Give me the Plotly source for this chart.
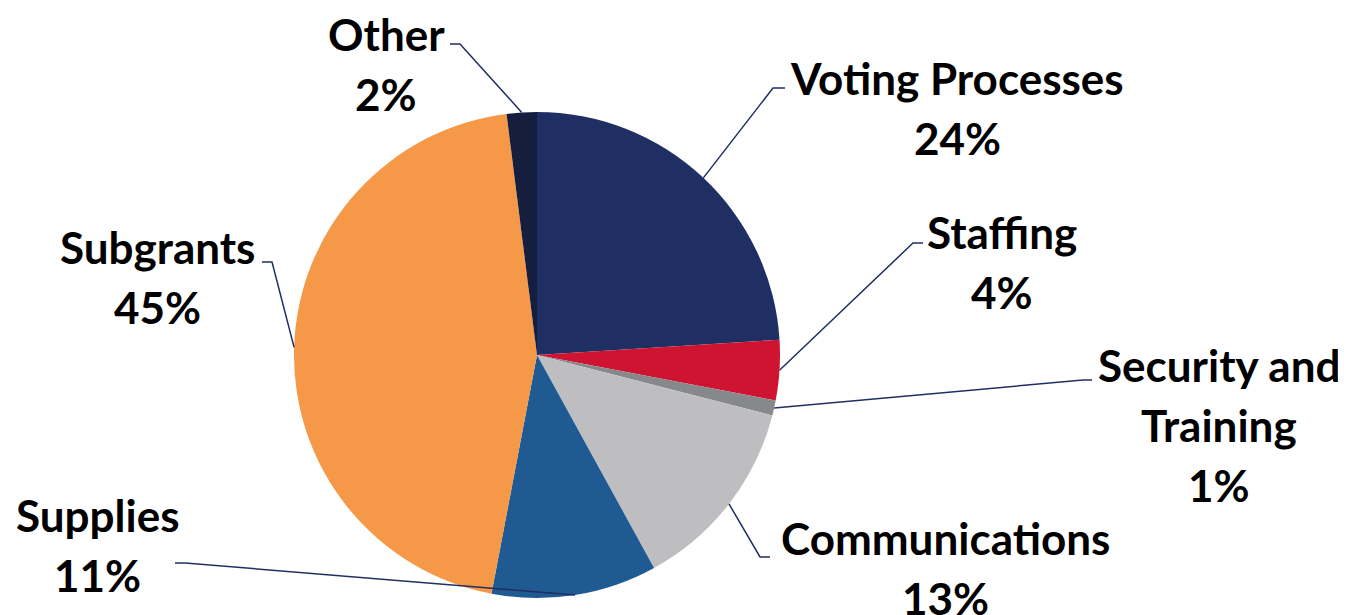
import math
import plotly.graph_objects as go

# ---- data ----
categories = ["Voting Processes", "Staffing", "Security and Training", "Communications",
              "Supplies", "Subgrants", "Other"]
label_lines = [["Voting Processes"], ["Staffing"], ["Security and", "Training"],
               ["Communications"], ["Supplies"], ["Subgrants"], ["Other"]]
values = [24, 4, 1, 13, 11, 45, 2]
colors = ["#1F2F63", "#CF1431", "#87888C", "#BEBEC0", "#1F5A93", "#F59847", "#151E3D"]

W, H = 1346, 615
OFF = 8  # page body margin offset
CX, CY, R = 537, 355, 243  # pie centre/radius in window pixels

# label block centres (px) and leader elbow/end points (px)
label_pos = [(957, 108), (1002, 262), (1219, 425), (945, 568), (97, 545), (157, 277), (386, 64)]
elbows = [((773, 88), (785, 88)), ((913, 243), (923, 243)), ((1083, 380), (1092, 380)),
          ((760, 557), (770, 557)), ((185, 563), (175, 563)), ((272, 262), (262, 262)),
          ((460, 44), (450, 44))]

FONT = "Lato"
FS = 44
LINE = 60

def px(x):
    return (x - OFF) / W

def py(y):
    return 1 - (y - OFF) / H

fig = go.Figure(go.Pie(
    labels=categories, values=values, sort=False, direction="clockwise", rotation=0,
    marker=dict(colors=colors, line=dict(width=0)),
    textinfo="none", hoverinfo="label+percent", showlegend=False,
    domain=dict(x=[px(CX - R), px(CX + R)], y=[py(CY + R), py(CY - R)]),
))

total = sum(values)
cum = 0
annotations = []
shapes = []
for i, v in enumerate(values):
    mid = (cum + v / 2) / total * 2 * math.pi
    cum += v
    ax = CX + R * math.sin(mid)
    ay = CY - R * math.cos(mid)
    (ex, ey), (fx, fy) = elbows[i]
    shapes.append(dict(type="path", xref="paper", yref="paper",
                       path=f"M {px(ax)} {py(ay)} L {px(ex)} {py(ey)} L {px(fx)} {py(fy)}",
                       line=dict(color="#1F2F63", width=1.5)))
    lines = label_lines[i] + [f"{v}%"]
    lx, lyc = label_pos[i]
    n = len(lines)
    for k, t in enumerate(lines):
        yk = lyc + (k - (n - 1) / 2) * LINE
        annotations.append(dict(text=f"<b>{t}</b>", x=px(lx), y=py(yk), xref="paper", yref="paper",
                                xanchor="center", yanchor="middle", showarrow=False, borderpad=0,
                                font=dict(family=FONT, size=FS, color="#000000")))

fig.update_layout(width=W, height=H, margin=dict(l=0, r=0, t=0, b=0),
                  paper_bgcolor="white", plot_bgcolor="white",
                  annotations=annotations, shapes=shapes)

fig.write_html("out.html")
